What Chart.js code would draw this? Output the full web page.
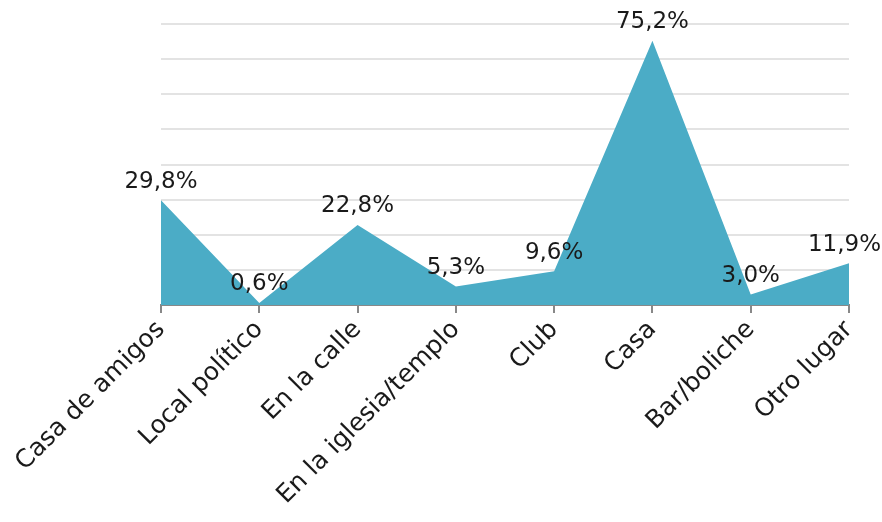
<!DOCTYPE html>
<html>
<head>
<meta charset="utf-8">
<script src="https://cdn.jsdelivr.net/npm/chart.js@4.4.1/dist/chart.umd.min.js"></script>
<style>
  html, body { margin: 0; padding: 0; background: #fff; }
  #wrap { width: 882px; height: 522px; }
</style>
</head>
<body>
<div id="wrap"><canvas id="chart" width="882" height="522"></canvas></div>
<script>
const categories = ['Casa de amigos','Local político','En la calle','En la iglesia/templo','Club','Casa','Bar/boliche','Otro lugar'];
const values = [29.8, 0.6, 22.8, 5.3, 9.6, 75.2, 3.0, 11.9];
const valueLabels = ['29,8%','0,6%','22,8%','5,3%','9,6%','75,2%','3,0%','11,9%'];

const FONT = "'DejaVu Sans', sans-serif";

// draws the percent labels above each point
const pointLabels = {
    id: 'pointLabels',
    afterDatasetsDraw(c){
        const ctx = c.ctx;
        const meta = c.getDatasetMeta(0);
        ctx.save();
        ctx.font = '23px ' + FONT;
        ctx.fillStyle = '#1a1a1a';
        ctx.textAlign = 'center';
        ctx.textBaseline = 'bottom';
        meta.data.forEach((pt, i) => {
            const w = ctx.measureText(valueLabels[i]).width;
            let x = pt.x;
            if (x + w/2 > c.width - 1) x = c.width - 1 - w/2;
            ctx.fillText(valueLabels[i], x, pt.y - 7);
        });
        ctx.restore();
    }
};

const chart = document.querySelector('#chart').getContext('2d');
new Chart(chart, {
    type:'line',
    data:{
        labels: categories,
        datasets:[
            {
                data: values,
                fill: 'origin',
                backgroundColor: '#4BACC6',
                borderWidth: 0,
                pointRadius: 0,
                tension: 0
            }
        ]
    },
    options:{
        responsive: false,
        animation: false,
        layout:{ padding:{ left:161, right:33, top:24, bottom:0 } },
        plugins:{ legend:{ display:false }, tooltip:{ enabled:false } },
        scales:{
            x:{
                offset: false,
                grid:{ drawOnChartArea:false, drawTicks:true, tickLength:8, color:'#888', lineWidth:2 },
                border:{ display:true, color:'#888', width:2 },
                ticks:{ minRotation:45, maxRotation:45, padding:2, color:'#1a1a1a', font:{ family:FONT, size:25 } },
                afterFit(scale){ scale.height = 217; }
            },
            y:{
                min: 0,
                max: 80,
                ticks:{ stepSize:10, display:false },
                grid:{ color:'#e3e3e3', lineWidth:2, drawTicks:false },
                border:{ display:false },
                afterFit(scale){ scale.width = 0; }
            }
        }
    },
    plugins:[pointLabels]
})
</script>
</body>
</html>
